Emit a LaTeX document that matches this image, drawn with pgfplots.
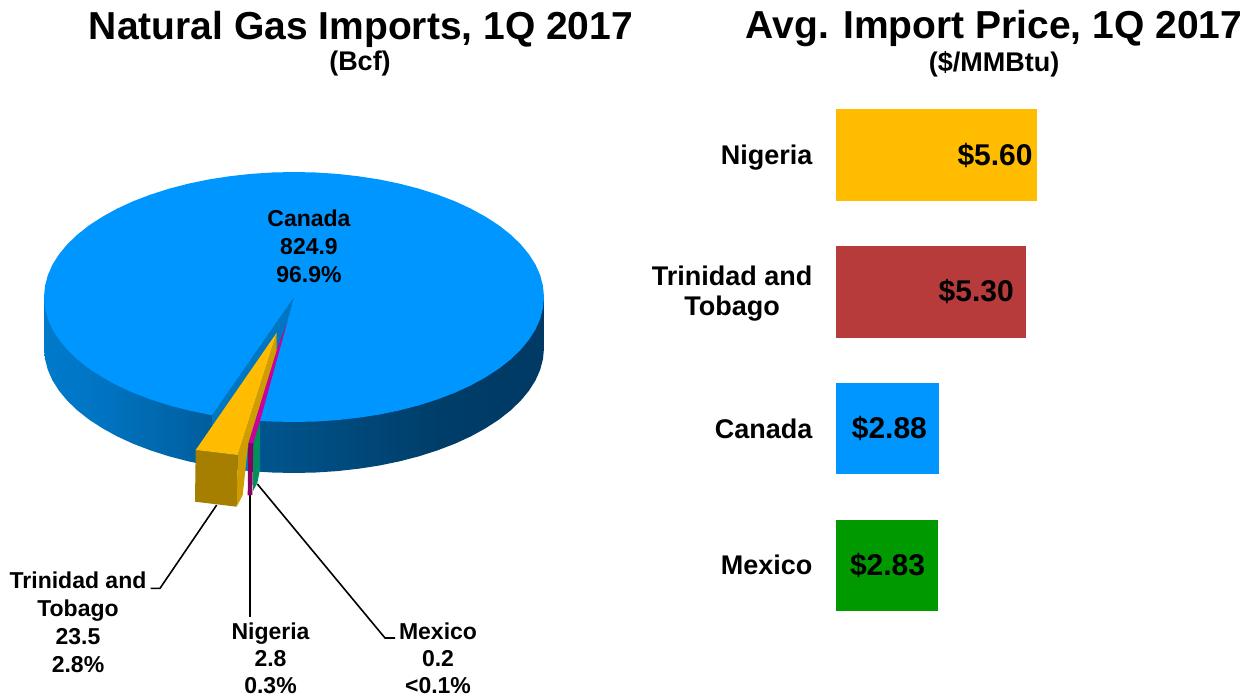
\documentclass[border=0pt]{standalone}
\usepackage{fontspec}
\setmainfont{Liberation Sans}
\usepackage{pgfplots}
\pgfplotsset{compat=1.18}

\definecolor{canada}{HTML}{0096FF}
\definecolor{gapblue}{HTML}{0076C2}
\definecolor{ttyellow}{HTML}{FFBC00}
\definecolor{ttfront}{HTML}{A67E00}
\definecolor{ttwall}{HTML}{D09C00}
\definecolor{nigtop}{HTML}{CC0099}
\definecolor{nigside}{HTML}{8A0060}
\definecolor{mexside}{HTML}{00905A}
\definecolor{barred}{HTML}{B83B3B}
\definecolor{bargreen}{HTML}{009900}

% wall of the pie, dark towards the right
\pgfdeclarehorizontalshading{piewall}{100bp}{
  rgb(0bp)=(0,.56,.93);
  rgb(30bp)=(0,.46,.77);
  rgb(45bp)=(0,.34,.57);
  rgb(65bp)=(0,.24,.41);
  rgb(85bp)=(0,.21,.38);
  rgb(100bp)=(0,.25,.43)}

\newcommand{\fs}[1]{\fontsize{#1}{#1}\selectfont\bfseries}

\pgfplotsset{
  face/.style={draw=none, mark=none, fill=#1},
  leader/.style={black, line width=1.6pt, mark=none},
  pricebar/.style={fill=#1, draw=none, mark=none},
}

\begin{document}
\begin{tikzpicture}
\useasboundingbox (0,0) rectangle (1253pt,696pt);

% left side and texts: axis units are the pixels of the picture
\begin{axis}[
    at={(0,0)}, anchor=south west,
    width=1253pt, height=696pt, scale only axis,
    xmin=0, xmax=1253, ymin=0, ymax=696, y dir=reverse,
    hide axis, clip=false,
]
% wall
\addplot[draw=none, mark=none, shading=piewall] coordinates {
  (44,297) (544,297) (544,348) (543,358.9) (540.2,369.7) (535.5,380.4) (528.9,390.8)
  (520.6,400.8) (510.5,410.5) (498.8,419.7) (485.5,428.3) (470.8,436.4) (454.7,443.8)
  (437.4,450.4) (419,456.3) (399.7,461.3) (379.5,465.5) (358.7,468.7) (337.4,471.1)
  (315.8,472.5) (294,473) (272.2,472.5) (250.6,471.1) (229.3,468.7) (208.5,465.5)
  (188.3,461.3) (169,456.3) (150.6,450.4) (133.3,443.8) (117.2,436.4) (102.5,428.3)
  (89.2,419.7) (77.5,410.5) (67.4,400.8) (59.1,390.8) (52.5,380.4) (47.8,369.7)
  (45,358.9) (44,348)
} --cycle;
% inside of the cut
\addplot[face=gapblue] coordinates {
  (294,297) (212,415) (212,466) (260,472) (260,421)
} --cycle;
% Canada, top
\addplot[face=canada] coordinates {
  (294,297) (260,420.8) (272.2,421.5) (294,422) (315.8,421.5) (337.4,420.1) (358.7,417.7)
  (379.5,414.5) (399.7,410.3) (419,405.3) (437.4,399.4) (454.7,392.8) (470.8,385.4)
  (485.5,377.3) (498.8,368.7) (510.5,359.5) (520.6,349.8) (528.9,339.8) (535.5,329.4)
  (540.2,318.7) (543,307.9) (544,297)
  (543,286.1) (540.2,275.3) (535.5,264.6) (528.9,254.2) (520.6,244.2) (510.5,234.5)
  (498.8,225.3) (485.5,216.7) (470.8,208.6) (454.7,201.2) (437.4,194.6) (419,188.7)
  (399.7,183.7) (379.5,179.5) (358.7,176.3) (337.4,173.9) (315.8,172.5) (294,172)
  (272.2,172.5) (250.6,173.9) (229.3,176.3) (208.5,179.5) (188.3,183.7) (169,188.7)
  (150.6,194.6) (133.3,201.2) (117.2,208.6) (102.5,216.7) (89.2,225.3) (77.5,234.5)
  (67.4,244.2) (59.1,254.2) (52.5,264.6) (47.8,275.3) (45,286.1) (44,297)
  (45,307.9) (47.8,318.7) (52.5,329.4) (59.1,339.8) (67.4,349.8) (77.5,359.5)
  (89.2,368.7) (102.5,377.3) (117.2,385.4) (133.3,392.8) (150.6,399.4) (169,405.3)
  (188.3,410.3) (208.5,414.5) (212,415.1)
} --cycle;
% leaders
\addplot[leader] coordinates {(216.7,505) (160,588.3) (150.7,588.3)};
\addplot[leader] coordinates {(250,495) (250,617)};
\addplot[leader] coordinates {(257.3,484) (385,638) (395,638)};
% Mexico
\addplot[face=mexside] coordinates {
  (253.3,443) (260,421) (259.5,472) (257.3,483) (253,491)
} --cycle;
% Nigeria
\addplot[face=nigtop] coordinates {
  (287.3,321.7) (260,421) (253.3,443) (248.3,443.3) (276.7,350)
} --cycle;
\addplot[face=nigside] coordinates {
  (248.3,443.3) (253.3,443) (252.3,495) (247.7,495.3)
} --cycle;
% Trinidad and Tobago
\addplot[face=ttwall] coordinates {
  (276.7,332.7) (276.7,350) (248.3,443) (242.7,495) (236.7,506.7) (237.7,455)
} --cycle;
\addplot[face=ttfront] coordinates {
  (195.7,450) (237.7,455) (236.7,506.7) (195,501.7)
} --cycle;
\addplot[face=ttyellow] coordinates {
  (276.7,332.7) (195.7,450) (237.7,455)
} --cycle;

\node[font=\fs{39}] at (axis cs:361,29) {Natural Gas Imports, 1Q 2017};
\node[font=\fs{27}] at (axis cs:360,64) {(Bcf)};
\node[font=\fs{39}] at (axis cs:994,29) {Avg. Import Price, 1Q 2017};
\node[font=\fs{27}] at (axis cs:994,64) {(\$/MMBtu)};

\node[font=\fs{23}, align=center, anchor=center] at (axis cs:309,246.5)
  {Canada\\[5pt]824.9\\[5pt]96.9\%};
\node[font=\fs{23}, align=center, anchor=center] at (axis cs:78,622)
  {Trinidad and\\[5pt]Tobago\\[5pt]23.5\\[5pt]2.8\%};
\node[font=\fs{23}, align=center, anchor=center] at (axis cs:270.5,658)
  {Nigeria\\[4pt]2.8\\[4pt]0.3\%};
\node[font=\fs{23}, align=center, anchor=center] at (axis cs:438,658)
  {Mexico\\[4pt]0.2\\[4pt]<0.1\%};
\end{axis}

% right side: price bars
\begin{axis}[
    at={(836pt,62.3pt)}, anchor=south west,
    width=404pt, height=546.8pt, scale only axis,
    xbar, bar shift=0pt, bar width=91.5pt,
    xmin=0, xmax=11.25, ymin=-0.5, ymax=3.5,
    axis x line=none,
    axis y line*=left,
    y axis line style={draw=none},
    major tick length=0pt,
    ytick={0,1,1.985,2.985},
    yticklabels={Mexico,Canada,{Trinidad and\\[3pt]Tobago},Nigeria},
    yticklabel style={font=\fs{27}, align=center, xshift=-20pt},
    point meta=x,
    /pgf/number format/assume math mode=true,
    nodes near coords={\$\pgfmathprintnumber[fixed,fixed zerofill,precision=2]{\pgfplotspointmeta}},
    nodes near coords style={font=\fs{30}, black, anchor=east, xshift=-9pt},
]
\addplot[pricebar=bargreen] coordinates {(2.83,0)};
\addplot[pricebar=canada] coordinates {(2.88,1)};
\addplot[pricebar=barred] coordinates {(5.30,2)};
\addplot[pricebar=ttyellow, nodes near coords style={xshift=8pt}] coordinates {(5.60,3)};
\end{axis}
\end{tikzpicture}
\end{document}
